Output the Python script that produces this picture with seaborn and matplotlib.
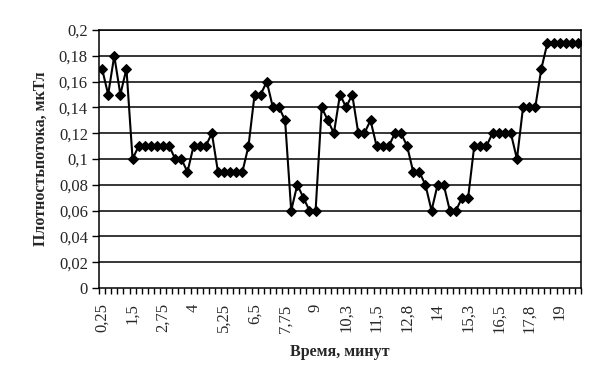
import matplotlib
matplotlib.use("Agg")
import matplotlib.pyplot as plt
import seaborn as sns
import pandas as pd
import numpy as np

values = [0.17, 0.15, 0.18, 0.15, 0.17, 0.10, 0.11, 0.11, 0.11, 0.11, 0.11, 0.11,
          0.10, 0.10, 0.09, 0.11, 0.11, 0.11, 0.12, 0.09, 0.09, 0.09, 0.09, 0.09,
          0.11, 0.15, 0.15, 0.16, 0.14, 0.14, 0.13, 0.06, 0.08, 0.07, 0.06, 0.06,
          0.14, 0.13, 0.12, 0.15, 0.14, 0.15, 0.12, 0.12, 0.13, 0.11, 0.11, 0.11,
          0.12, 0.12, 0.11, 0.09, 0.09, 0.08, 0.06, 0.08, 0.08, 0.06, 0.06, 0.07,
          0.07, 0.11, 0.11, 0.11, 0.12, 0.12, 0.12, 0.12, 0.10, 0.14, 0.14, 0.14,
          0.17, 0.19, 0.19, 0.19, 0.19, 0.19, 0.19]
x_labels = ["0,25", "1,5", "2,75", "4", "5,25", "6,5", "7,75", "9", "10,3",
            "11,5", "12,8", "14", "15,3", "16,5", "17,8", "19"]
y_ticks = [0, 0.02, 0.04, 0.06, 0.08, 0.1, 0.12, 0.14, 0.16, 0.18, 0.2]
y_labels = ["0", "0,02", "0,04", "0,06", "0,08", "0,1", "0,12", "0,14",
            "0,16", "0,18", "0,2"]

df = pd.DataFrame({"idx": np.arange(len(values)), "val": values})

sns.set_theme(style="white")
plt.rcParams['font.family'] = ['Liberation Serif', 'DejaVu Serif']

fig = plt.figure(figsize=(5.98, 3.70), dpi=100)
ax = fig.add_axes([99/598, 1-288/370, (581-99)/598, (288-30)/370])

for yv in y_ticks[1:]:
    ax.axhline(yv, color="black", lw=1.1, zorder=1)

sns.lineplot(data=df, x="idx", y="val", ax=ax, color="black", lw=1.5,
             marker="D", markersize=5.5, markeredgecolor="black",
             markerfacecolor="black", zorder=3)

n = len(values)
ax.set_xlim(-0.5, n - 0.5)
ax.set_ylim(0, 0.2)
ax.set_yticks(y_ticks)
ax.set_yticklabels(y_labels, fontsize=12)
ax.set_xticks(np.arange(0, 5 * len(x_labels), 5))
ax.set_xticklabels(x_labels, rotation=90, fontsize=12)
ax.set_xticks(np.arange(-0.5, n, 1), minor=True)
ax.tick_params(axis="x", which="major", length=0, pad=11)
ax.tick_params(axis="x", which="minor", length=4, width=1, color="black",
               direction="out", bottom=True)
ax.tick_params(axis="y", which="major", length=5, width=1, color="black",
               direction="out", left=True, pad=3)
for s in ax.spines.values():
    s.set_color("black")
    s.set_linewidth(1.1)

ax.set_xlabel("Время, минут", fontsize=11.5, fontweight="bold", labelpad=8)
ax.set_ylabel("Плотностьпотока, мкТл", fontsize=11.5, fontweight="bold", labelpad=7)

fig.savefig("out.png", dpi=100, facecolor="white")
